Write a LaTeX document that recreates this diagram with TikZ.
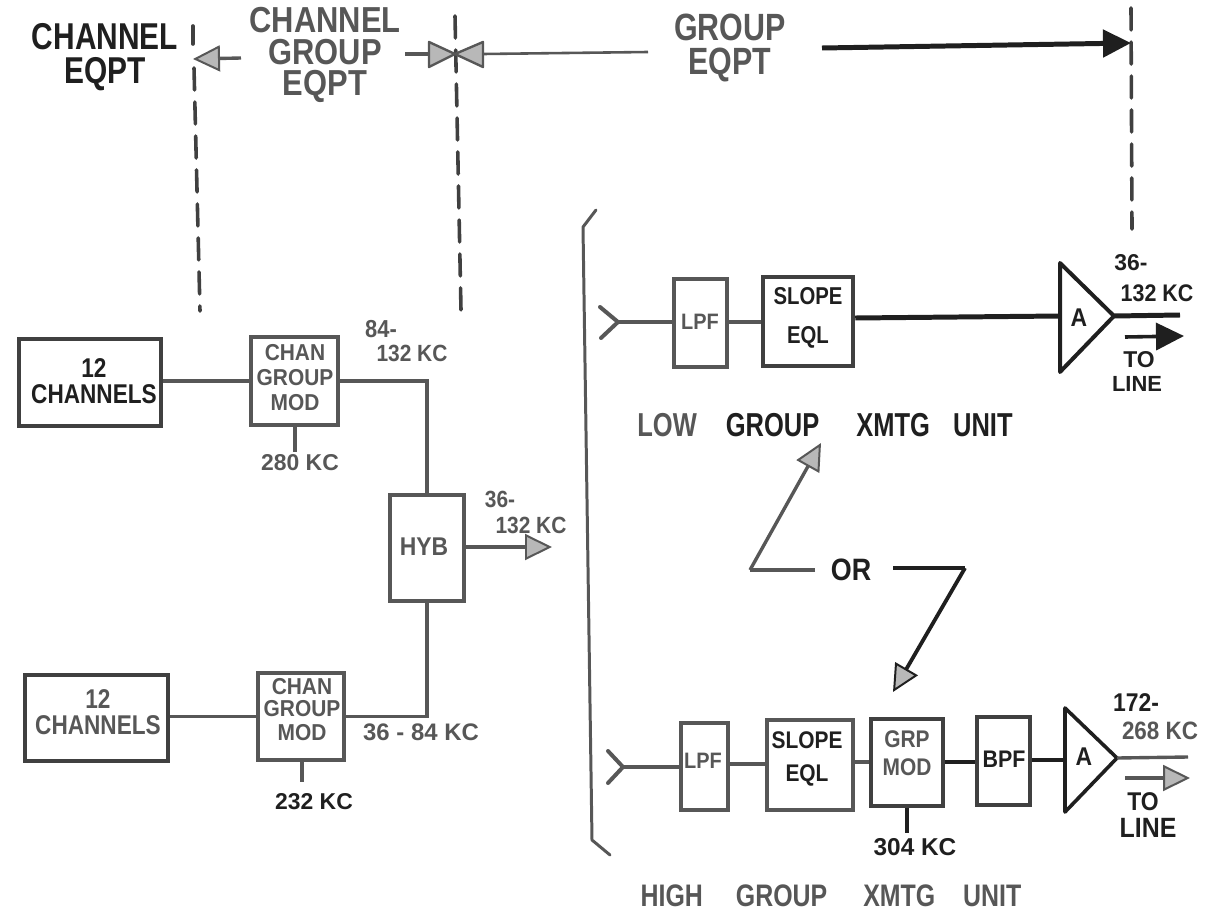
\documentclass[tikz,border=0pt]{standalone}
\usepackage{fontspec}
\setmainfont{Liberation Sans}
\usetikzlibrary{arrows.meta}
\definecolor{ink}{gray}{0.12}
\definecolor{faded}{gray}{0.34}
\definecolor{tipfill}{gray}{0.72}
\newcommand\tall[2][1.2]{\scalebox{1}[#1]{\begin{tabular}{@{}c@{}}#2\end{tabular}}}
\newcommand\vs[1]{\scalebox{1}[1.12]{#1}}
\tikzset{
  x=1bp,y=-1bp,
  lab/.style={inner sep=0pt,font=\fontsize{#1}{#1}\selectfont\bfseries,text=faded},
  labk/.style={inner sep=0pt,font=\fontsize{#1}{#1}\selectfont\bfseries,text=ink},
  fbox/.style={draw=faded,line width=4pt,inner sep=0pt},
  kbox/.style={draw=ink!85!white,line width=4.5pt,inner sep=0pt},
  wire/.style={draw=faded,line width=3.4pt},
  heavy/.style={draw=ink,line width=5pt},
  dash line/.style={draw=ink!85!white,line width=3.6pt,dash pattern=on 22bp off 12bp,line cap=round},
  hollow/.style={-{Triangle[open,length=27bp,width=26bp,line width=2pt,fill=tipfill]}},
  solid tip/.style={-{Triangle[length=28bp,width=27bp,fill=ink]}},
  amp/.style={draw=ink,line width=4pt,line join=round},
  bow/.style={draw=faded,line width=2.4pt,fill=tipfill,line join=round},
  fork/.style={draw=faded,line width=4pt,line cap=round,line join=round},
}
\begin{document}
\begin{tikzpicture}
\useasboundingbox (0,0) rectangle (1205,912);
% boundaries
\coordinate (d1t) at (193,26); \coordinate (d1u) at (193,44);
\coordinate (d1m) at (194,68); \coordinate (d1b) at (200,311);
\coordinate (d2t) at (455,16); \coordinate (d2b) at (461,310);
\coordinate (d3t) at (1131,8); \coordinate (d3b) at (1132,229);
\draw[dash line] (d1t) -- (d1u);
\draw[dash line] (d1m) -- (d1b);
\draw[dash line] (d2t) -- (d2b);
\draw[dash line] (d3t) -- (d3b);
% header
\node[labk=30] (ce) at (105,59) {\tall[1.25]{CHANNEL\\[-2bp]EQPT}};
\node[lab=31] (cg) at (325,57) {\tall[1.17]{CHANNEL\\[-4bp]GROUP\\[-4bp]EQPT}};
\node[lab=30.5] (ge) at (730,50) {\tall[1.25]{GROUP\\[-3bp]EQPT}};
\coordinate (tip1) at (193,59); \coordinate (a1) at (241,58);
\draw[wire,hollow] (a1) -- (tip1);
\coordinate (bowc) at (455,54); \coordinate (st) at (405,54); \coordinate (stb) at (429,54);
\coordinate (wl) at (483,54); \coordinate (wr) at (648,52);
\coordinate (bt) at (822,48); \coordinate (btip) at (1131,43);
\draw[wire] (st) -- (stb);
\draw[bow] (429,42) -- (bowc) -- (429,67) -- cycle;
\draw[bow] (483,42) -- (bowc) -- (483,67) -- cycle;
\draw[wire,line width=2.6pt] (wl) -- (wr);
\draw[heavy,solid tip] (bt) -- (btip);
% left channel group
\node[kbox,minimum width=142bp,minimum height=87bp] (c1) at (90,382.5) {};
\node[labk=22.7] (c1t) at (94,385) {\tall{12\\[-1bp]CHANNELS}};
\node[fbox,minimum width=87bp,minimum height=88bp] (m1) at (294.5,381) {};
\node[lab=21] (m1t) at (295,381) {\tall[1.1]{CHAN\\[1.7bp]GROUP\\[1.7bp]MOD}};
\node[fbox,minimum width=74bp,minimum height=106bp] (hy) at (427,548) {};
\node[lab=23] (hyt) at (424,547) {\vs{HYB}};
\node[kbox,minimum width=143bp,minimum height=86bp] (c2) at (96.5,718) {};
\node[lab=22.7] (c2t) at (98,716) {\tall{12\\[-1bp]CHANNELS}};
\node[fbox,minimum width=86bp,minimum height=87bp] (m2) at (301,716.5) {};
\node[lab=21] (m2t) at (302,713) {\tall[1.1]{CHAN\\[-0.5bp]GROUP\\[1bp]MOD}};
\draw[wire] (c1.east |- m1) -- (m1.west);
\draw[wire] (c2.east |- m2) -- (m2.west);
\draw[wire] (m1.east) -- (hy.north |- m1.east) -- (hy.north);
\draw[wire] (m2.east) -- (hy.south |- m2.east) -- (hy.south);
\coordinate (hyo) at (552,547);
\draw[wire,hollow] (hy.east |- hyo) -- (hyo);
\coordinate (s1) at (295,452); \draw[wire] (m1.south -| s1) -- (s1);
\coordinate (s2) at (302,782); \draw[wire] (m2.south -| s2) -- (s2);
\node[lab=23] (f1) at (300,463) {280 KC};
\node[labk=23] (f2) at (314,802) {232 KC};
\node[lab=22] (f3a) at (381,329) {\vs{84-}};
\node[lab=21] (f3b) at (412,353) {\vs{132 KC}};
\node[lab=21] (f4a) at (500,499) {\vs{36-}};
\node[lab=21] (f4b) at (531,525) {\vs{132 KC}};
\node[lab=24] (f5) at (421,732) {36 - 84 KC};
% bracket
\coordinate (b1) at (596,210); \coordinate (b2) at (583,227); \coordinate (b3) at (592,840); \coordinate (b4) at (610,855);
\draw[draw=faded,line width=3pt,line join=round,line cap=round] (b1) -- (b2) -- (b3) -- (b4);
% low group
\node[fbox,minimum width=53bp,minimum height=88bp] (lp1) at (700.5,323) {};
\node[lab=20] (lp1t) at (700,322) {\vs{LPF}};
\node[kbox,minimum width=90bp,minimum height=89bp] (sl1) at (808,321.5) {};
\node[labk=20.4] (sl1t) at (808,319) {\tall{SLOPE\\[12bp]EQL}};
\coordinate (a1c) at (1060,263); \coordinate (a1d) at (1060,372); \coordinate (a1r) at (1114,316);
\draw[amp] (a1c) -- (a1d) -- (a1r) -- cycle;
\node[labk=23] (a1t) at (1079,318) {\vs{A}};
\coordinate (in1) at (618,322);
\draw[fork] (600,307) -- (in1) -- (601,338);
\draw[wire] (in1) -- (lp1.west |- in1);
\draw[wire] (lp1.east |- in1) -- (sl1.west |- in1);
\coordinate (t1) at (1060,316);
\draw[heavy] (sl1.east |- 0,318) -- (t1);
\coordinate (o1) at (1180,315);
\draw[heavy] (a1r) -- (o1);
\coordinate (ar1) at (1125,337); \coordinate (ar1e) at (1184,336);
\draw[heavy,line width=3.6pt,solid tip] (ar1) -- (ar1e);
\node[labk=23] (n1) at (1131,263) {36-};
\node[labk=21.5] (n2) at (1157,293) {\vs{132 KC}};
\node[labk=23] (n3) at (1139,360) {TO};
\node[labk=22] (n4) at (1137,384) {LINE};
\node[inner sep=0pt,font=\fontsize{25.6}{25.6}\selectfont\bfseries,text=ink] (lgu) at (825,425) {\scalebox{1}[1.3]{\textcolor{faded}{LOW}\hspace{29bp}GROUP\hspace{37bp}XMTG\hspace{23bp}UNIT}};
% OR
\node[labk=27] (ort) at (851,570) {\scalebox{1}[1.15]{OR}};
\coordinate (o1s) at (815,570); \coordinate (o1a) at (750,570); \coordinate (o1b) at (821,443);
\coordinate (o2s) at (893,568); \coordinate (o2a) at (965,568); \coordinate (o2b) at (893,692);
\draw[wire,line join=round] (o1s) -- (o1a);
\draw[wire,hollow] (o1a) -- (o1b);
\draw[heavy,line width=3.8pt] (o2s) -- (o2a);
\draw[heavy,line width=3.8pt,hollow] (o2a) -- (o2b);
% high group
\node[fbox,minimum width=47bp,minimum height=87bp] (lp2) at (704.5,766.5) {};
\node[lab=20] (lp2t) at (703,761) {\vs{LPF}};
\node[fbox,minimum width=86bp,minimum height=90bp] (sl2) at (810,765) {};
\node[labk=21] (sl2t) at (807,760) {\tall[1.15]{SLOPE\\[7.7bp]EQL}};
\node[fbox,draw=ink!85!white,minimum width=72bp,minimum height=87bp] (gr) at (907,762.5) {};
\node[lab=21] (grt) at (907,757) {\tall[1.15]{GRP\\[3.3bp]MOD}};
\node[kbox,minimum width=53bp,minimum height=88bp] (bp) at (1003.5,761) {};
\node[labk=21.5] (bpt) at (1004,759) {\vs{BPF}};
\coordinate (a2c) at (1065,708); \coordinate (a2d) at (1065,812); \coordinate (a2r) at (1117,758);
\draw[amp,line width=3.6pt] (a2c) -- (a2d) -- (a2r) -- cycle;
\node[labk=23] (a2t) at (1084,757) {\vs{A}};
\coordinate (in2) at (623,767);
\draw[fork] (608,751) -- (in2) -- (608,783);
\draw[wire] (in2) -- (lp2.west |- in2);
\draw[wire] (lp2.east |- 0,764) -- (sl2.west |- 0,764);
\draw[wire] (sl2.east |- 0,762) -- (gr.west |- 0,762);
\draw[heavy,line width=4pt] (gr.east |- 0,762) -- (bp.west |- 0,762);
\coordinate (t2) at (1065,760);
\draw[heavy] (bp.east |- 0,760) -- (t2);
\coordinate (o2) at (1188,757);
\draw[wire] (a2r) -- (o2);
\coordinate (ar2) at (1125,778); \coordinate (ar2e) at (1190,778);
\draw[wire,hollow] (ar2) -- (ar2e);
\coordinate (s3) at (907,833); \draw[heavy,line width=3.6pt] (gr.south -| s3) -- (s3);
\node[labk=23] (h1) at (1136,703) {\vs{172-}};
\node[lab=22.5] (h2) at (1160,731) {\vs{268 KC}};
\node[labk=23] (h3) at (1143,802) {\vs{TO}};
\node[labk=25] (h4) at (1148,828) {\vs{LINE}};
\node[labk=24.5] (h5) at (915,847) {304 KC};
\node[lab=25] (hgu) at (831,896) {\scalebox{1}[1.25]{HIGH\hspace{33bp}GROUP\hspace{36bp}XMTG\hspace{28bp}UNIT}};
\end{tikzpicture}
\end{document}
